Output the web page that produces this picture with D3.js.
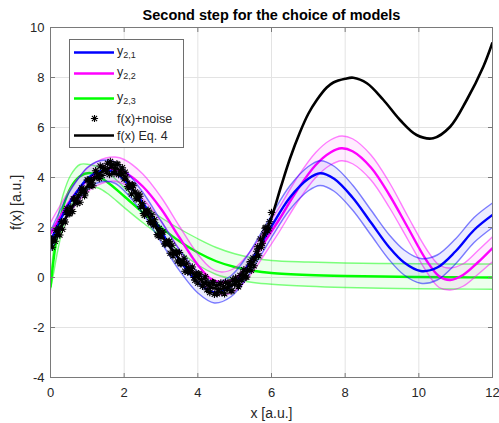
<!DOCTYPE html>
<html><head><meta charset="utf-8">
<script src="https://cdn.jsdelivr.net/npm/d3@7"></script>
<style>body{margin:0;background:#fff}svg{display:block}text{font-family:"Liberation Sans",Arial,sans-serif}</style>
</head><body>
<svg id="c" width="499" height="423"></svg>
<script>
// ---------- data ----------
const xTicks = [0, 2, 4, 6, 8, 10, 12];
const yTicks = [-4, -2, 0, 2, 4, 6, 8, 10];

// y_{2,1} (blue)
const blueX = [0,0.25,0.5,0.75,1.0,1.25,1.5,1.75,2.0,2.5,3.0,3.5,4.0,4.45,4.9,5.3,5.7,6.0,6.5,7.0,7.32,7.7,8.2,8.7,9.2,9.6,10.05,10.5,11.0,11.5,12.0];
const blueMid = [1.45,2.25,2.95,3.5,3.95,4.2,4.28,4.2,3.9,3.0,1.85,0.7,-0.2,-0.6,-0.35,0.35,1.3,2.05,3.2,3.95,4.17,3.95,3.2,2.2,1.2,0.6,0.26,0.4,1.05,1.9,2.5];
const blueUp  = [1.85,2.65,3.38,3.95,4.4,4.63,4.7,4.62,4.32,3.42,2.27,1.12,0.22,-0.2,0.07,0.78,1.74,2.5,3.67,4.44,4.67,4.45,3.7,2.7,1.7,1.1,0.76,0.9,1.55,2.4,2.98];
const blueLo  = [1.05,1.85,2.55,3.08,3.52,3.77,3.85,3.77,3.47,2.57,1.42,0.28,-0.62,-1.02,-0.77,-0.08,0.86,1.6,2.72,3.47,3.68,3.45,2.7,1.7,0.7,0.1,-0.23,-0.1,0.55,1.4,2.0];

// y_{2,2} (magenta)
const magX = [0,0.25,0.5,0.75,1.0,1.25,1.5,1.75,2.0,2.5,3.0,3.5,4.0,4.35,4.65,5.0,5.4,5.8,6.2,6.7,7.2,7.6,7.9,8.2,8.7,9.2,9.7,10.2,10.55,10.85,11.2,11.6,12.0];
const magMid = [1.75,2.4,3.0,3.5,3.9,4.15,4.3,4.33,4.22,3.65,2.75,1.6,0.5,-0.05,-0.2,-0.05,0.55,1.4,2.3,3.5,4.5,5.0,5.17,5.05,4.4,3.3,2.0,0.7,0.05,-0.1,0.1,0.6,1.18];
const magUp  = [2.2,2.85,3.45,3.97,4.38,4.63,4.78,4.82,4.72,4.15,3.22,2.05,0.93,0.38,0.22,0.38,1.0,1.87,2.78,4.0,5.0,5.5,5.66,5.55,4.9,3.8,2.45,1.15,0.5,0.38,0.55,1.07,1.63];
const magLo  = [1.3,1.95,2.55,3.03,3.42,3.67,3.82,3.85,3.73,3.15,2.25,1.1,0.0,-0.55,-0.7,-0.55,0.05,0.9,1.8,3.0,4.0,4.5,4.67,4.55,3.9,2.8,1.52,0.25,-0.4,-0.5,-0.35,0.12,0.63];

// y_{2,3} (green)
const greenX = [0,0.1,0.2,0.35,0.55,0.8,1.05,1.3,1.6,2.0,2.5,3.0,3.5,4.0,4.5,5.0,5.5,6.0,7,8,9,10,11,12];
const greenMid = [-0.4,0.9,1.85,2.85,3.6,4.05,4.18,4.05,3.75,3.25,2.6,2.0,1.45,1.0,0.65,0.42,0.27,0.18,0.1,0.06,0.04,0.02,0.01,0.0];
const greenUp  = [-0.2,1.4,2.4,3.35,4.1,4.52,4.52,4.42,4.15,3.6,2.95,2.4,1.95,1.55,1.2,0.95,0.78,0.68,0.62,0.58,0.56,0.55,0.54,0.54];
const greenLo  = [-0.5,0.3,1.1,2.05,2.85,3.38,3.6,3.58,3.3,2.8,2.2,1.65,1.05,0.5,0.12,-0.08,-0.2,-0.27,-0.35,-0.4,-0.43,-0.45,-0.46,-0.47];

// f(x) Eq. 4 (black)
const fX = [0,0.25,0.5,0.75,1.0,1.25,1.5,1.65,1.85,2.0,2.25,2.5,2.75,3.0,3.25,3.5,3.75,4.0,4.25,4.5,4.75,5.0,5.25,5.5,5.75,6.0,6.25,6.5,6.77,7.0,7.23,7.5,7.68,8.0,8.22,8.59,9.04,9.49,9.94,10.39,10.85,11.3,11.75,12.0];
const fY = [1.25,1.95,2.6,3.2,3.65,4.05,4.33,4.4,4.33,4.05,3.5,2.85,2.25,1.7,1.2,0.75,0.35,0.0,-0.3,-0.45,-0.42,-0.25,0.05,0.6,1.5,2.4,3.6,4.75,5.8,6.55,7.1,7.6,7.8,7.95,7.99,7.77,7.1,6.3,5.7,5.57,6.03,7.1,8.43,9.4];

// f(x)+noise (stars)
const noiseX = [0,0.05,0.1,0.15,0.2,0.25,0.3,0.35,0.4,0.45,0.5,0.55,0.6,0.65,0.7,0.75,0.8,0.85,0.9,0.95,1.0,1.05,1.1,1.15,1.2,1.25,1.3,1.35,1.4,1.45,1.5,1.55,1.6,1.65,1.7,1.75,1.8,1.85,1.9,1.95,2.0,2.05,2.1,2.15,2.2,2.25,2.3,2.35,2.4,2.45,2.5,2.55,2.6,2.65,2.7,2.75,2.8,2.85,2.9,2.95,3.0,3.05,3.1,3.15,3.2,3.25,3.3,3.35,3.4,3.45,3.5,3.55,3.6,3.65,3.7,3.75,3.8,3.85,3.9,3.95,4.0,4.05,4.1,4.15,4.2,4.25,4.3,4.35,4.4,4.45,4.5,4.55,4.6,4.65,4.7,4.75,4.8,4.85,4.9,4.95,5.0,5.05,5.1,5.15,5.2,5.25,5.3,5.35,5.4,5.45,5.5,5.55,5.6,5.65,5.7,5.75,5.8,5.85,5.9,5.95,6.0,
  0.025,0.125,0.225,0.325,0.425,0.525,0.625,0.725,0.825,0.925,1.025,1.125,1.225,1.325,1.425,1.525,1.625,1.725,1.825,1.925,2.025,2.125,2.225,2.325,2.425,2.525,2.625,2.725,2.825,2.925,3.025,3.125,3.225,3.325,3.425,3.525,3.625,3.725,3.825,3.925,4.025,4.125,4.225,4.325,4.425,4.525,4.625,4.725,4.825,4.925,5.025,5.125,5.225,5.325,5.425,5.525,5.625,5.725,5.825,5.925];
const noiseY = [1.37,1.21,1.58,1.89,1.72,1.70,2.23,2.23,2.22,2.75,2.55,2.82,2.64,3.14,3.06,3.27,3.01,3.58,3.51,3.42,3.90,3.65,3.92,3.67,4.00,4.21,4.02,4.46,4.08,4.35,4.30,4.57,4.12,4.49,4.53,4.31,4.54,4.12,4.26,4.39,3.94,4.02,3.64,3.74,3.34,3.67,3.42,3.17,3.34,2.83,2.95,2.49,2.63,2.69,2.24,2.51,2.10,2.10,1.72,1.96,1.61,1.82,1.34,1.43,1.42,0.97,1.29,1.01,1.02,0.66,1.00,0.55,0.65,0.25,0.57,0.35,0.20,0.42,0.00,0.18,-0.22,0.11,-0.08,-0.28,0.03,-0.49,-0.25,-0.39,-0.19,-0.67,-0.32,-0.50,-0.28,-0.60,-0.37,-0.19,-0.46,-0.25,-0.53,-0.09,-0.27,-0.12,-0.37,0.08,-0.10,0.31,0.01,0.30,0.50,0.29,0.78,0.73,1.05,0.87,1.54,1.37,1.74,2.00,1.86,2.23,2.60,
  1.52,1.45,1.98,1.93,2.59,2.56,3.14,2.96,3.46,3.27,3.89,3.79,4.27,3.96,4.42,4.23,4.64,4.16,4.52,4.15,4.21,3.58,3.70,3.14,3.25,2.56,2.65,2.19,2.31,1.67,1.81,1.35,1.45,0.87,1.01,0.56,0.77,0.22,0.35,-0.11,0.15,-0.35,-0.15,-0.60,-0.21,-0.65,-0.22,-0.65,-0.22,-0.53,-0.02,-0.28,0.17,0.02,0.64,0.47,1.23,1.21,1.97,1.98];

const legendLabels = [["y","2,1"],["y","2,2"],["y","2,3"],["f(x)+noise",null],["f(x) Eq. 4",null]];

// ---------- chart ----------
const svg = d3.select("#c");
const L = 50.5, R = 492.5, T = 27.5, B = 377.5;
const x = d3.scaleLinear().domain([0, 12]).range([L, R]);
const y = d3.scaleLinear().domain([-4, 10]).range([B, T]);
const axisCol = "#7a7a7a", textCol = "#262626";
const curve = d3.curveCatmullRom.alpha(0.5);

svg.append("rect").attr("x", L).attr("y", T).attr("width", R - L).attr("height", B - T).attr("fill", "#fff");

// grid
const grid = svg.append("g").attr("stroke", "#e3e3e3").attr("stroke-width", 1);
xTicks.slice(1, -1).forEach(t => grid.append("line").attr("x1", x(t)).attr("x2", x(t)).attr("y1", T).attr("y2", B));
yTicks.slice(1, -1).forEach(t => grid.append("line").attr("x1", L).attr("x2", R).attr("y1", y(t)).attr("y2", y(t)));

const plot = svg.append("g");
svg.append("clipPath").attr("id", "pc").append("rect").attr("x", L).attr("y", T).attr("width", R - L).attr("height", B - T);
plot.attr("clip-path", "url(#pc)");

function band(xs, up, lo, mid, col, fillCol) {
  const idx = d3.range(xs.length);
  const area = d3.area().x(i => x(xs[i])).y0(i => y(lo[i])).y1(i => y(up[i])).curve(curve);
  plot.append("path").attr("d", area(idx)).attr("fill", fillCol).attr("stroke", "none");
  const line = arr => d3.line().x(i => x(xs[i])).y(i => y(arr[i])).curve(curve)(idx);
  plot.append("path").attr("d", line(up)).attr("fill", "none").attr("stroke", col).attr("stroke-opacity", 0.5).attr("stroke-width", 1.4);
  plot.append("path").attr("d", line(lo)).attr("fill", "none").attr("stroke", col).attr("stroke-opacity", 0.5).attr("stroke-width", 1.4);
  plot.append("path").attr("d", line(mid)).attr("fill", "none").attr("stroke", col).attr("stroke-width", 2.4);
}
band(greenX, greenUp, greenLo, greenMid, "#00ff00", "rgba(0,255,0,0.07)");
band(magX, magUp, magLo, magMid, "#ff00ff", "rgba(255,0,255,0.07)");
band(blueX, blueUp, blueLo, blueMid, "#0000ff", "rgba(0,0,255,0.07)");

// stars
function star(g, cx, cy, s) {
  const d = `M${cx - s},${cy}L${cx + s},${cy}M${cx},${cy - s}L${cx},${cy + s}` +
            `M${cx - s * 0.72},${cy - s * 0.72}L${cx + s * 0.72},${cy + s * 0.72}M${cx - s * 0.72},${cy + s * 0.72}L${cx + s * 0.72},${cy - s * 0.72}`;
  g.append("path").attr("d", d).attr("stroke", "#000").attr("stroke-width", 1.1).attr("fill", "none");
}
const sg = plot.append("g");
noiseX.forEach((v, i) => star(sg, x(v), y(noiseY[i]), 3.8));

// black curve
plot.append("path").attr("d", d3.line().x(i => x(fX[i])).y(i => y(fY[i])).curve(curve)(d3.range(fX.length)))
  .attr("fill", "none").attr("stroke", "#000").attr("stroke-width", 2.6);

// box + ticks
const ax = svg.append("g").attr("stroke", axisCol).attr("stroke-width", 1).attr("fill", "none");
ax.append("rect").attr("x", L).attr("y", T).attr("width", R - L).attr("height", B - T);
xTicks.forEach(t => {
  ax.append("line").attr("x1", x(t)).attr("x2", x(t)).attr("y1", B).attr("y2", B - 4.5);
  ax.append("line").attr("x1", x(t)).attr("x2", x(t)).attr("y1", T).attr("y2", T + 4.5);
});
yTicks.forEach(t => {
  ax.append("line").attr("x1", L).attr("x2", L + 4.5).attr("y1", y(t)).attr("y2", y(t));
  ax.append("line").attr("x1", R).attr("x2", R - 4.5).attr("y1", y(t)).attr("y2", y(t));
});

// tick labels
const tl = svg.append("g").attr("fill", textCol).style("font-size", "13px");
xTicks.forEach(t => tl.append("text").attr("x", x(t)).attr("y", B + 19).attr("text-anchor", "middle").text(t));
yTicks.forEach(t => tl.append("text").attr("x", L - 6).attr("y", y(t) + 4.5).attr("text-anchor", "end").text(t));

// labels/title
svg.append("text").attr("x", (L + R) / 2).attr("y", 418).attr("text-anchor", "middle").attr("fill", textCol).style("font-size", "14px").text("x [a.u.]");
svg.append("text").attr("transform", `translate(21,${(T + B) / 2}) rotate(-90)`).attr("text-anchor", "middle").attr("fill", textCol).style("font-size", "14px").text("f(x) [a.u.]");
svg.append("text").attr("x", (L + R) / 2).attr("y", 20).attr("text-anchor", "middle").attr("fill", "#000").style("font-size", "14.5px").style("font-weight", "bold").text("Second step for the choice of models");

// legend
const lg = svg.append("g");
lg.append("rect").attr("x", 69.5).attr("y", 39.5).attr("width", 114).attr("height", 108).attr("fill", "#fff").attr("stroke", "#6e6e6e").attr("stroke-width", 1);
const ly = [52.5, 73.5, 98.5, 118.5, 135.5];
const lcol = ["#0000ff", "#ff00ff", "#00ff00", null, "#000"];
legendLabels.forEach((lab, i) => {
  if (lcol[i]) lg.append("line").attr("x1", 74).attr("x2", 114).attr("y1", ly[i]).attr("y2", ly[i]).attr("stroke", lcol[i]).attr("stroke-width", 2.4);
  else star(lg, 94.5, ly[i], 3.6);
  const t = lg.append("text").attr("x", 117).attr("y", ly[i] + (lab[1] ? 2 : 4.5)).attr("fill", textCol).style("font-size", "12.5px");
  t.append("tspan").text(lab[0]);
  if (lab[1]) t.append("tspan").attr("dy", 3.5).style("font-size", "9px").text(lab[1]);
});
</script>
</body></html>
